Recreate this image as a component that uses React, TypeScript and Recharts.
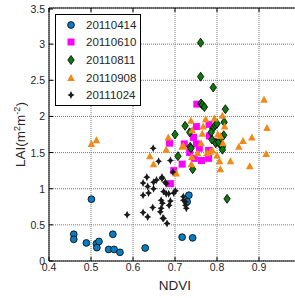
import { CartesianGrid, ReferenceLine, Scatter, ScatterChart, XAxis, YAxis } from "recharts";

type Pt = { x: number; y: number };
const pts = (a: number[][]): Pt[] => a.map(([x, y]) => ({ x, y }));

const xTicks = [0.4, 0.5, 0.6, 0.7, 0.8, 0.9, 1];
const yTicks = [0, 0.5, 1, 1.5, 2, 2.5, 3, 3.5];

const d20110414 = pts([
  [0.459, 0.37], [0.459, 0.3], [0.489, 0.25], [0.501, 0.855], [0.513, 0.24], [0.514, 0.185],
  [0.519, 0.27], [0.552, 0.37], [0.542, 0.16], [0.555, 0.16], [0.569, 0.12], [0.629, 0.18],
  [0.717, 0.33], [0.742, 0.32], [0.733, 0.91], [0.729, 0.82]
]);

const d20110610 = pts([
  [0.752, 2.17], [0.751, 1.86], [0.687, 1.63], [0.781, 1.89], [0.744, 1.71], [0.722, 1.62],
  [0.751, 1.62], [0.782, 1.73], [0.717, 1.34], [0.746, 1.42], [0.763, 1.39], [0.78, 1.42],
  [0.697, 1.25], [0.689, 1.07], [0.78, 1.53], [0.801, 1.65], [0.758, 1.56], [0.735, 1.5]
]);

const d20110811 = pts([
  [0.761, 3.02], [0.761, 2.55], [0.791, 2.4], [0.762, 2.18], [0.765, 2.16], [0.77, 2.13],
  [0.82, 2.1], [0.817, 1.92], [0.724, 1.87], [0.7, 1.75], [0.735, 1.78], [0.79, 1.83],
  [0.796, 1.88], [0.8, 1.9], [0.816, 1.74], [0.736, 1.58], [0.788, 1.68], [0.797, 1.63],
  [0.806, 1.62], [0.813, 1.58], [0.707, 1.45], [0.738, 1.56], [0.742, 1.27], [0.824, 0.86],
  [0.804, 1.65], [0.813, 1.54], [0.786, 1.78], [0.81, 1.7]
]);

const d20110908 = pts([
  [0.501, 1.62], [0.513, 1.67], [0.912, 2.23], [0.919, 1.84], [0.883, 1.71], [0.862, 1.66],
  [0.852, 1.58], [0.738, 1.94], [0.794, 1.97], [0.813, 2.01], [0.818, 1.86], [0.741, 1.81],
  [0.765, 1.76], [0.684, 1.71], [0.717, 1.58], [0.802, 1.75], [0.808, 1.73], [0.64, 1.45],
  [0.649, 1.34], [0.679, 1.54], [0.72, 1.59], [0.739, 1.34], [0.703, 1.21], [0.754, 1.49],
  [0.776, 1.49], [0.8, 1.46], [0.806, 1.38], [0.808, 1.27], [0.832, 1.38], [0.878, 1.31],
  [0.917, 1.48], [0.762, 1.63], [0.784, 1.51], [0.814, 1.63], [0.773, 1.96], [0.767, 1.86],
  [0.74, 1.44], [0.789, 1.53]
]);

const d20111024 = pts([
  [0.586, 0.64], [0.624, 1.08], [0.635, 1.03], [0.649, 1.09], [0.624, 0.91], [0.637, 0.94],
  [0.647, 0.74], [0.624, 0.67], [0.635, 0.61], [0.669, 1.16], [0.679, 1.07], [0.673, 0.96],
  [0.679, 0.93], [0.667, 0.84], [0.67, 0.8], [0.689, 0.83], [0.686, 0.77], [0.667, 0.73],
  [0.665, 0.68], [0.673, 0.59], [0.681, 0.52], [0.701, 0.97], [0.697, 0.94], [0.72, 0.84],
  [0.725, 0.77], [0.727, 0.73], [0.695, 1.23], [0.648, 1.56], [0.661, 1.38], [0.689, 1.39],
  [0.633, 1.16], [0.649, 1.0], [0.669, 1.14], [0.677, 1.09], [0.685, 0.93], [0.671, 0.59],
  [0.72, 0.89], [0.725, 0.82], [0.656, 1.12]
]);

const FONT = "Arial, 'Liberation Sans', sans-serif";
const TXT = "#262626";
const PLOT_H = 253;

type MarkerKind = "circle" | "square" | "diamond" | "triangle" | "star";

function Marker({ kind, cx, cy }: { kind: MarkerKind; cx: number; cy: number }) {
  if (kind === "circle")
    return <circle cx={cx} cy={cy} r={3.4} fill="#0a7dc2" stroke="#000" strokeWidth={0.8} />;
  if (kind === "square")
    return <rect x={cx - 3.5} y={cy - 3.5} width={7} height={7} fill="#ff00ff" />;
  if (kind === "diamond")
    return (
      <path
        d={`M${cx},${cy - 4.5}L${cx + 3.2},${cy}L${cx},${cy + 4.5}L${cx - 3.2},${cy}Z`}
        fill="#0a7a0a"
        stroke="#000"
        strokeWidth={0.8}
      />
    );
  if (kind === "triangle")
    return (
      <path d={`M${cx},${cy - 4}L${cx + 3.8},${cy + 3}L${cx - 3.8},${cy + 3}Z`} fill="#f08a16" />
    );
  return (
    <path
      fill="#1a1a1a"
      d={`M${cx},${cy - 4}L${cx + 1.3},${cy - 1.3}L${cx + 3.5},${cy}L${cx + 1.3},${cy + 1.3}L${cx},${cy + 4}L${cx - 1.3},${cy + 1.3}L${cx - 3.5},${cy}L${cx - 1.3},${cy - 1.3}Z`}
    />
  );
}

const series: { name: string; data: Pt[]; kind: MarkerKind }[] = [
  { name: "20110414", data: d20110414, kind: "circle" },
  { name: "20110610", data: d20110610, kind: "square" },
  { name: "20110811", data: d20110811, kind: "diamond" },
  { name: "20110908", data: d20110908, kind: "triangle" },
  { name: "20111024", data: d20111024, kind: "star" }
];

function XTick(props: any) {
  const { x, y, payload } = props;
  return (
    <g>
      <line x1={x} x2={x} y1={y} y2={y - 4} stroke="#000" />
      <line x1={x} x2={x} y1={y - PLOT_H} y2={y - PLOT_H + 4} stroke="#000" />
      {payload.value < 1 && (
        <text x={x} y={y + 10} textAnchor="middle" fontSize={10.5} fontFamily={FONT} fill={TXT}>
          {payload.value}
        </text>
      )}
    </g>
  );
}

function YTick(props: any) {
  const { x, y, payload } = props;
  return (
    <g>
      <line x1={x} x2={x + 4} y1={y} y2={y} stroke="#000" />
      <text x={x - 4} y={y + 4} textAnchor="end" fontSize={10.5} fontFamily={FONT} fill={TXT}>
        {payload.value}
      </text>
    </g>
  );
}

function LegendBox() {
  return (
    <div
      style={{
        position: "absolute",
        left: 55,
        top: 14,
        width: 86,
        boxSizing: "border-box",
        border: "1px solid #000",
        background: "#fff",
        padding: "1px 0 1px 0",
        fontFamily: FONT,
        fontSize: 11.5,
        color: TXT
      }}
    >
      {series.map((s) => (
        <div key={s.name} style={{ display: "flex", alignItems: "center", height: 17.6 }}>
          <svg width={30} height={14} style={{ flex: "none" }}>
            <Marker kind={s.kind} cx={15} cy={7} />
          </svg>
          <span>{s.name}</span>
        </div>
      ))}
    </div>
  );
}

export default function App() {
  return (
    <div
      style={{ position: "fixed", left: 0, top: 0, width: 295, height: 298, overflow: "hidden", background: "#fff" }}
    >
      <ScatterChart width={305} height={298} margin={{ top: 8, right: 4, bottom: 7, left: 0 }}>
        <CartesianGrid stroke="#7a7a7a" strokeDasharray="1 1" />
        <XAxis
          type="number"
          dataKey="x"
          domain={[0.4, 1]}
          ticks={xTicks}
          tick={<XTick />}
          tickLine={false}
          tickSize={0}
          tickMargin={0}
          height={30}
          stroke="#000"
          allowDataOverflow
          label={{ value: "NDVI", position: "insideBottom", offset: 1, fontSize: 13.5, fontFamily: FONT, fill: TXT }}
        />
        <YAxis
          type="number"
          dataKey="y"
          domain={[0, 3.5]}
          ticks={yTicks}
          tick={<YTick />}
          tickLine={false}
          tickSize={0}
          tickMargin={0}
          width={49}
          stroke="#000"
          allowDataOverflow
          label={{
            content: () => (
              <text
                transform="translate(25,134.5) rotate(-90)"
                textAnchor="middle"
                fontSize={13.5}
                fontFamily={FONT}
                fill={TXT}
              >
                LAI(m
                <tspan fontSize={9} dy={-5}>2</tspan>
                <tspan dy={5}>m</tspan>
                <tspan fontSize={9} dy={-5}>-2</tspan>
                <tspan dy={5}>)</tspan>
              </text>
            )
          }}
        />
        <ReferenceLine y={3.5} stroke="#000" />
        <ReferenceLine x={1} stroke="#000" />
        {series.map((s) => (
          <Scatter
            key={s.name}
            name={s.name}
            data={s.data}
            isAnimationActive={false}
            shape={(p: any) => <Marker kind={s.kind} cx={p.cx} cy={p.cy} />}
          />
        ))}
      </ScatterChart>
      <LegendBox />
    </div>
  );
}
